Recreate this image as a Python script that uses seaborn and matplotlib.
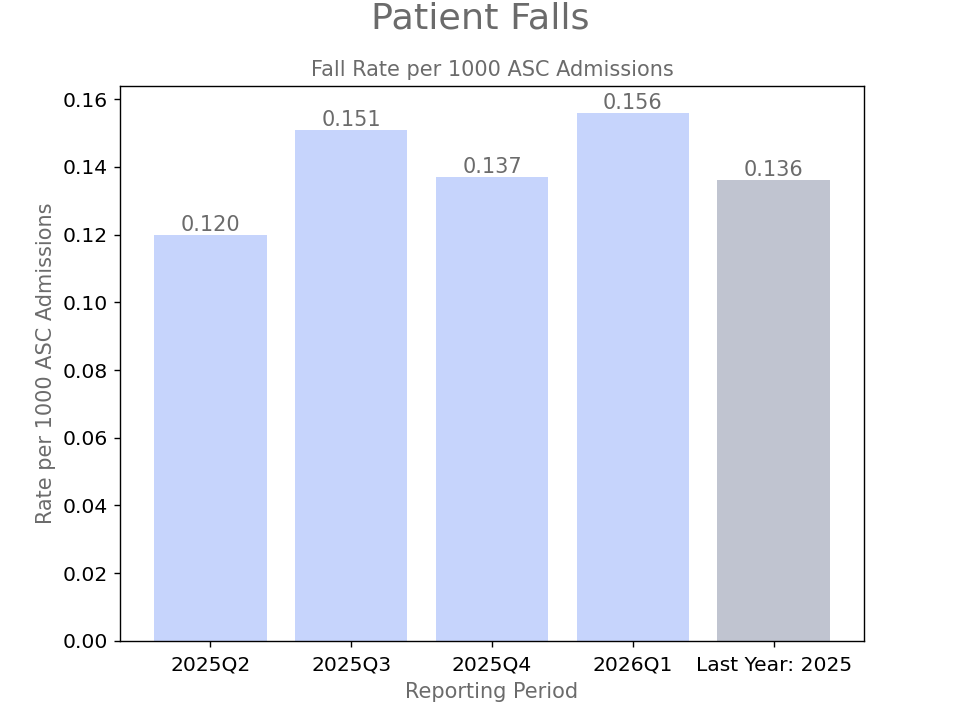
import matplotlib
matplotlib.use('Agg')
import matplotlib.pyplot as plt
import seaborn as sns
import pandas as pd

periods = ['2025Q2', '2025Q3', '2025Q4', '2026Q1', 'Last Year: 2025']
rates = [0.120, 0.151, 0.137, 0.156, 0.136]
bar_colors = ['#c6d4fc', '#c6d4fc', '#c6d4fc', '#c6d4fc', '#c0c4d0']

grey = '#6b6b6b'

df = pd.DataFrame({'period': periods, 'rate': rates})

# 7.68 x 5.76 in at 125 dpi -> 960 x 720 px
fig, ax = plt.subplots(figsize=(7.68, 5.76), dpi=125)
sns.barplot(data=df, x='period', y='rate', hue='period', palette=bar_colors,
            legend=False, width=0.8, saturation=1, ax=ax)

for c in ax.containers:
    ax.bar_label(c, fmt='%.3f', color=grey, fontsize=12)

ax.set_xlim(-0.64, 4.64)
ax.set_ylim(0, max(rates) * 1.05)

fig.suptitle('Patient Falls', fontsize=21, color=grey, y=0.998)
ax.set_title('Fall Rate per 1000 ASC Admissions', fontsize=12, color=grey)
ax.set_xlabel('Reporting Period', fontsize=12, color=grey)
ax.set_ylabel('Rate per 1000 ASC Admissions', fontsize=12, color=grey)
ax.tick_params(labelsize=11.7)
ax.tick_params(axis='x', pad=5)

plt.savefig('out.png', dpi=125)
